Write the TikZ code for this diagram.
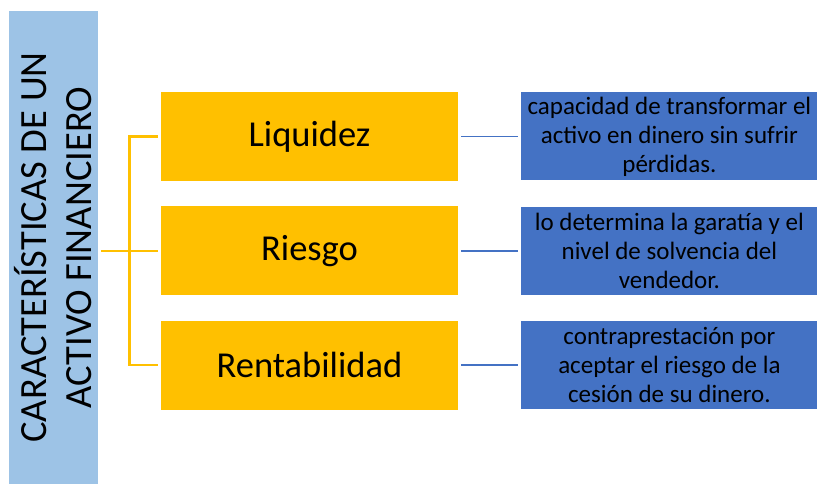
\documentclass[tikz,border=0pt]{standalone}
\usepackage{fontspec}
\setmainfont{Carlito}
\usepackage{tikz}
\usetikzlibrary{calc,positioning}
\definecolor{TitleBlue}{HTML}{9DC3E6}
\definecolor{ItemGold}{HTML}{FFC000}
\definecolor{NoteBlue}{HTML}{4472C4}

\begin{document}
\begin{tikzpicture}[x=1pt,y=1pt]
  \tikzset{TitleNode/.style = {shape = rectangle, fill = TitleBlue, text = black, inner sep = 0, minimum width = 473, minimum height = 89, rotate = 90, align = center, font = \fontsize{38.5}{45}\selectfont}};
  \tikzset{ItemNode/.style = {shape = rectangle, fill = ItemGold, text = black, inner sep = 0, minimum width = 297, minimum height = 89, font = \fontsize{36.5}{42}\selectfont}};
  \tikzset{NoteNode/.style = {shape = rectangle, fill = NoteBlue, text = black, inner sep = 0, minimum width = 296, minimum height = 88, align = center, font = \fontsize{25}{29}\selectfont}};
  \tikzset{TrunkStyle/.style = {ItemGold, line width = 2.4pt, shorten >=3pt, shorten <=3pt}};
  \tikzset{LeafStyle/.style = {NoteBlue, line width = 1.8pt, shorten >=3pt, shorten <=3pt}};

  \useasboundingbox (0,0) rectangle (817,484);

  \node[TitleNode] (title) at (53.5,236.5) {CARACTERÍSTICAS DE UN\\ACTIVO FINANCIERO};
  \node[ItemNode] (liquidez) at (309.5,347.5) {Liquidez};
  \node[ItemNode, below = 25 of liquidez] (riesgo) {Riesgo};
  \node[ItemNode, below = 25 of riesgo] (rentabilidad) {Rentabilidad};
  \node[NoteNode, right = 63 of liquidez] (liquidez note) {capacidad de transformar el\\activo en dinero sin sufrir\\pérdidas.};
  \node[NoteNode, right = 63 of riesgo] (riesgo note) {lo determina la garatía y el\\nivel de solvencia del\\vendedor.};
  \node[NoteNode, right = 63 of rentabilidad] (rentabilidad note) {contraprestación por\\aceptar el riesgo de la\\cesión de su dinero.};

  \coordinate (fork) at ($(title.south |- riesgo.west)!0.5!(riesgo.west)$);

  \draw[TrunkStyle] (title.south |- riesgo.west) to (riesgo.west);
  \draw[TrunkStyle] (liquidez.west) -| (fork) |- (rentabilidad.west);
  \draw[LeafStyle] (liquidez) to (liquidez note);
  \draw[LeafStyle] (riesgo) to (riesgo note);
  \draw[LeafStyle] (rentabilidad) to (rentabilidad note);
\end{tikzpicture}
\end{document}
